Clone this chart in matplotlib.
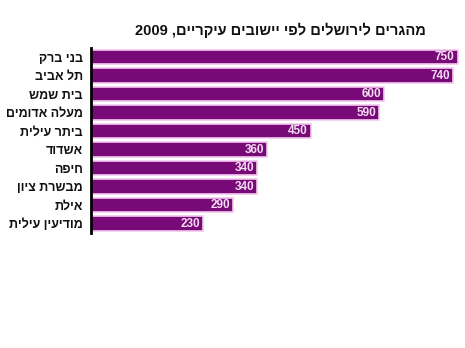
import matplotlib
matplotlib.use("Agg")
import matplotlib.pyplot as plt

plt.rcParams['font.family'] = ['Liberation Sans', 'DejaVu Sans']

title_text = "מהגרים לירושלים לפי יישובים עיקריים"
title_year = "2009"
categories = ["בני ברק", "תל אביב", "בית שמש", "מעלה אדומים", "ביתר עילית",
              "אשדוד", "חיפה", "מבשרת ציון", "אילת", "מודיעין עילית"]
values = [750, 740, 600, 590, 450, 360, 340, 340, 290, 230]


def visual(s):
    # matplotlib has no bidi support: reverse Hebrew text for display
    return s[::-1]


fig = plt.figure(figsize=(4.65, 3.48), dpi=100)
fig.patch.set_facecolor('white')
ax = fig.add_axes([91 / 465, 0.331, 0.799, 0.5316])

ypos = list(range(len(categories)))
ax.barh(ypos, values, height=0.8, color='#780a78', edgecolor='#f3c8ef',
        linewidth=1.2, zorder=2)

ax.set_ylim(len(categories) - 0.5, -0.5)
ax.set_xlim(0, 760)
ax.set_yticks(ypos)
ax.set_yticklabels([visual(c) for c in categories], fontweight='bold',
                   fontsize=9, color='#111111')
ax.tick_params(axis='y', length=0, pad=6)
ax.set_xticks([])
for s in ['top', 'right', 'bottom']:
    ax.spines[s].set_visible(False)
ax.spines['left'].set_linewidth(2.0)
ax.spines['left'].set_color('black')
ax.spines['left'].set_zorder(3)

for y, v in zip(ypos, values):
    ax.text(v - 6, y, str(v), ha='right', va='center', fontsize=8.5,
            fontweight='bold', color='#f5dcf3', zorder=4)

fig.text(280 / 465, 1 - 30 / 348, title_year + " ," + visual(title_text),
         ha='center', va='center', fontsize=10.5, fontweight='bold',
         color='#111111')

fig.savefig('out.png', dpi=100, facecolor='white')
